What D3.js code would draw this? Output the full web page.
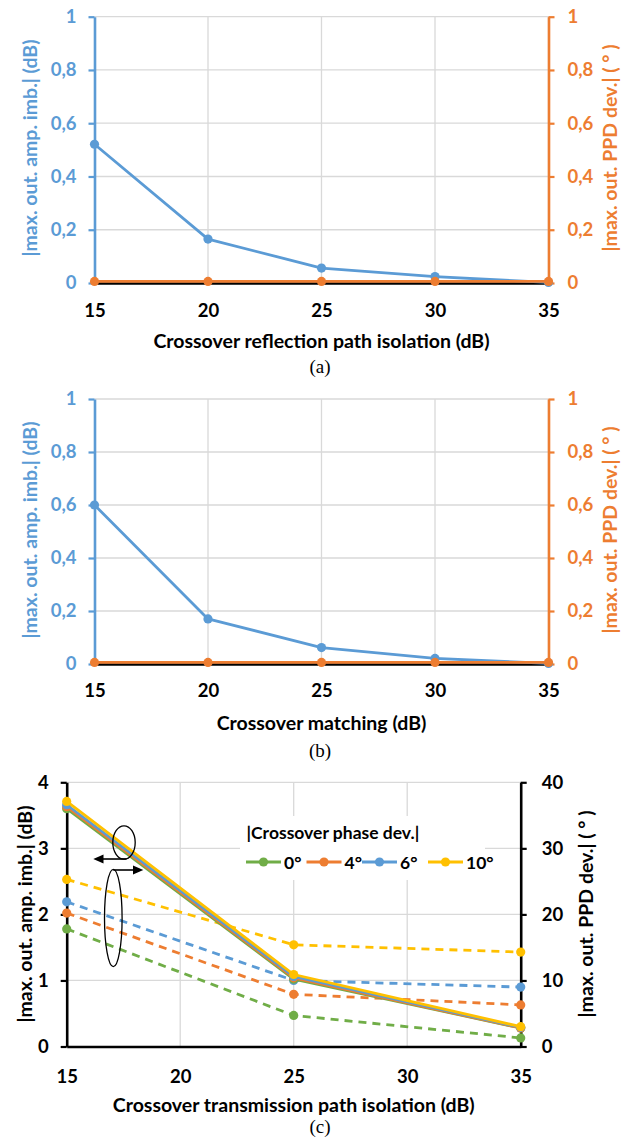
<!DOCTYPE html>
<html>
<head>
<meta charset="utf-8">
<script src="https://cdn.jsdelivr.net/npm/d3@7"></script>
<style>
  html, body { margin: 0; padding: 0; background: #fff; }
  svg { display: block; }
  text { font-family: Lato, "Noto Sans", sans-serif; font-weight: 700; }
  .caption { font-family: "Liberation Serif", "DejaVu Serif", serif; font-weight: 400; }
</style>
</head>
<body>
<svg id="fig" width="635" height="1138"></svg>
<script>
// ---- data ----
const xTickValues = [15, 20, 25, 30, 35];

// (a) crossover reflection path isolation
const isoReflA = [15, 20, 25, 30, 35];
const ampImbA = [0.521, 0.165, 0.056, 0.024, 0.002];
const ppdDevA = [0.006, 0.006, 0.006, 0.006, 0.006];

// (b) crossover matching
const matchingB = [15, 20, 25, 30, 35];
const ampImbB = [0.6, 0.17, 0.062, 0.021, 0.002];
const ppdDevB = [0.006, 0.006, 0.006, 0.006, 0.006];

// (c) crossover transmission path isolation, one series per phase deviation
const isoTransC = [15, 25, 35];
const phaseDevLabels = ["0°", "4°", "6°", "10°"];
const ampImbC0 = [3.60, 1.02, 0.28];
const ampImbC4 = [3.63, 1.04, 0.28];
const ampImbC6 = [3.66, 1.06, 0.29];
const ampImbC10 = [3.71, 1.09, 0.30];
const ppdDevC0 = [17.8, 4.7, 1.3];
const ppdDevC4 = [20.2, 7.9, 6.3];
const ppdDevC6 = [21.9, 10.0, 9.0];
const ppdDevC10 = [25.3, 15.4, 14.3];

const ampTicksAB = [0, 0.2, 0.4, 0.6, 0.8, 1];
const ppdTicksAB = [0, 0.2, 0.4, 0.6, 0.8, 1];
const ampTicksC = [0, 1, 2, 3, 4];
const ppdTicksC = [0, 10, 20, 30, 40];

// ---- styling ----
const BLUE = "#5b9bd5", ORANGE = "#ed7d31", GREEN = "#70ad47", YELLOW = "#ffc000";
const GRID = "#d9d9d9";
const phaseColors = [GREEN, ORANGE, BLUE, YELLOW];
const TICK_FS = "18.5px", TITLE_FS = "19.5px", LEGEND_FS = "17.5px";

const commaFmt = d3.formatLocale({decimal: ",", thousands: ".", grouping: [3], currency: ["", ""]}).format("~g");

const svg = d3.select("#fig");

function panel(cfg) {
  const g = svg.append("g");
  const x = d3.scaleLinear().domain([15, 35]).range([cfg.left, cfg.right]);
  const yL = d3.scaleLinear().domain(cfg.yLDomain).range([cfg.bottom, cfg.top]);
  const yR = d3.scaleLinear().domain(cfg.yRDomain).range([cfg.bottom, cfg.top]);

  // grid
  g.append("g").selectAll("line").data(cfg.yLTicks.slice(1)).join("line")
    .attr("x1", cfg.left).attr("x2", cfg.right)
    .attr("y1", d => yL(d)).attr("y2", d => yL(d))
    .attr("stroke", GRID).attr("stroke-width", 1.3);
  g.append("g").selectAll("line").data(xTickValues.slice(1)).join("line")
    .attr("x1", d => x(d)).attr("x2", d => x(d))
    .attr("y1", cfg.top).attr("y2", cfg.bottom)
    .attr("stroke", GRID).attr("stroke-width", 1.3);

  // bottom axis
  const xa = g.append("g").attr("transform", `translate(0,${cfg.bottom})`)
    .call(d3.axisBottom(x).tickValues(xTickValues).tickSize(0).tickPadding(cfg.xPad));
  xa.select(".domain").attr("stroke", "#000").attr("stroke-width", 2.6);
  xa.selectAll("text").attr("fill", "#000").style("font-size", TICK_FS);

  // left axis
  const la = g.append("g").attr("transform", `translate(${cfg.left},0)`)
    .call(d3.axisLeft(yL).tickValues(cfg.yLTicks).tickSize(6).tickPadding(12).tickSizeOuter(0).tickFormat(commaFmt));
  la.select(".domain").attr("stroke", cfg.leftColor).attr("stroke-width", 2.6);
  la.selectAll(".tick line").attr("stroke", cfg.leftColor).attr("stroke-width", 2.2);
  la.selectAll("text").attr("fill", cfg.leftColor).style("font-size", TICK_FS);

  // right axis
  const ra = g.append("g").attr("transform", `translate(${cfg.right},0)`)
    .call(d3.axisRight(yR).tickValues(cfg.yRTicks).tickSize(6).tickPadding(cfg.rPad).tickSizeOuter(0).tickFormat(commaFmt));
  ra.select(".domain").attr("stroke", cfg.rightColor).attr("stroke-width", 2.6);
  ra.selectAll(".tick line").attr("stroke", cfg.rightColor).attr("stroke-width", 2.2);
  ra.selectAll("text").attr("fill", cfg.rightColor).style("font-size", TICK_FS);

  // axis titles
  g.append("text")
    .attr("transform", `translate(${cfg.leftTitleX},${cfg.titleY}) rotate(-90)`)
    .attr("text-anchor", "middle").attr("dominant-baseline", "central")
    .attr("fill", cfg.leftColor).style("font-size", TITLE_FS)
    .text("|max. out. amp. imb.| (dB)");
  g.append("text")
    .attr("transform", `translate(${cfg.rightTitleX},${cfg.titleY}) rotate(-90)`)
    .attr("text-anchor", "middle").attr("dominant-baseline", "central")
    .attr("fill", cfg.rightColor).style("font-size", TITLE_FS)
    .text("|max. out. PPD dev.| ( ° )");
  g.append("text")
    .attr("x", (cfg.left + cfg.right) / 2).attr("y", cfg.xTitleY)
    .attr("text-anchor", "middle").attr("dominant-baseline", "central")
    .attr("fill", "#000").style("font-size", TITLE_FS)
    .text(cfg.xTitle);
  g.append("text").attr("class", "caption")
    .attr("x", 320).attr("y", cfg.captionY)
    .attr("text-anchor", "middle").attr("dominant-baseline", "central")
    .attr("fill", "#000").style("font-size", "19px")
    .text(cfg.caption);

  return {g, x, yL, yR};
}

function series(g, xs, ys, xScale, yScale, color, dashed) {
  const pts = xs.map((v, i) => [xScale(v), yScale(ys[i])]);
  g.append("path").attr("d", d3.line()(pts))
    .attr("fill", "none").attr("stroke", color).attr("stroke-width", 2.8)
    .attr("stroke-dasharray", dashed ? "8,6" : null)
    .attr("stroke-linejoin", "round");
  g.append("g").selectAll("circle").data(pts).join("circle")
    .attr("cx", d => d[0]).attr("cy", d => d[1]).attr("r", 4.6).attr("fill", color);
}

// ---- (a) ----
const pa = panel({
  left: 94.5, right: 548.5, top: 16.7, bottom: 283,
  yLDomain: [0, 1], yRDomain: [0, 1], yLTicks: ampTicksAB, yRTicks: ppdTicksAB,
  leftColor: BLUE, rightColor: ORANGE, xPad: 21, rPad: 13,
  leftTitleX: 29, rightTitleX: 609, titleY: 148,
  xTitle: "Crossover reflection path isolation (dB)", xTitleY: 340,
  caption: "(a)", captionY: 366
});
series(pa.g, isoReflA, ampImbA, pa.x, pa.yL, BLUE, false);
series(pa.g, isoReflA, ppdDevA, pa.x, pa.yR, ORANGE, false);

// ---- (b) ----
const pb = panel({
  left: 94.5, right: 548.5, top: 399, bottom: 664,
  yLDomain: [0, 1], yRDomain: [0, 1], yLTicks: ampTicksAB, yRTicks: ppdTicksAB,
  leftColor: BLUE, rightColor: ORANGE, xPad: 20, rPad: 13,
  leftTitleX: 29, rightTitleX: 609, titleY: 530,
  xTitle: "Crossover matching (dB)", xTitleY: 722,
  caption: "(b)", captionY: 750
});
series(pb.g, matchingB, ampImbB, pb.x, pb.yL, BLUE, false);
series(pb.g, matchingB, ppdDevB, pb.x, pb.yR, ORANGE, false);

// ---- (c) ----
const pc = panel({
  left: 66.7, right: 520.7, top: 782.3, bottom: 1046.5,
  yLDomain: [0, 4], yRDomain: [0, 40], yLTicks: ampTicksC, yRTicks: ppdTicksC,
  leftColor: "#000", rightColor: "#000", xPad: 23, rPad: 15,
  leftTitleX: 24, rightTitleX: 585, titleY: 914,
  xTitle: "Crossover transmission path isolation (dB)", xTitleY: 1104,
  caption: "(c)", captionY: 1126
});

// legend box sits above the grid
pc.g.append("rect").attr("x", 240).attr("y", 816).attr("width", 245).attr("height", 64).attr("fill", "#fff");

const ampImbC = [ampImbC0, ampImbC4, ampImbC6, ampImbC10];
const ppdDevC = [ppdDevC0, ppdDevC4, ppdDevC6, ppdDevC10];
ppdDevC.forEach((ys, i) => series(pc.g, isoTransC, ys, pc.x, pc.yR, phaseColors[i], true));
ampImbC.forEach((ys, i) => series(pc.g, isoTransC, ys, pc.x, pc.yL, phaseColors[i], false));

// legend
const lg = pc.g.append("g");
lg.append("text").attr("x", 246.5).attr("y", 832).attr("dominant-baseline", "central")
  .attr("fill", "#000").style("font-size", LEGEND_FS).text("|Crossover phase dev.|");
const legendX = [246, 306.5, 362, 428];
phaseDevLabels.forEach((lab, i) => {
  const x0 = legendX[i];
  lg.append("line").attr("x1", x0).attr("x2", x0 + 35).attr("y1", 862).attr("y2", 862)
    .attr("stroke", phaseColors[i]).attr("stroke-width", 2.8);
  lg.append("circle").attr("cx", x0 + 17.5).attr("cy", 862).attr("r", 4.6).attr("fill", phaseColors[i]);
  lg.append("text").attr("x", x0 + 38).attr("y", 862).attr("dominant-baseline", "central")
    .attr("fill", "#000").style("font-size", LEGEND_FS).text(lab);
});

// annotation: ellipses with arrows pointing to each axis
const ann = pc.g.append("g").attr("fill", "none").attr("stroke", "#000").attr("stroke-width", 1.3);
ann.append("ellipse").attr("cx", 124).attr("cy", 842.5).attr("rx", 11.2).attr("ry", 16.7);
ann.append("ellipse").attr("cx", 113.3).attr("cy", 918).attr("rx", 8.8).attr("ry", 48.7);
ann.append("line").attr("x1", 126.5).attr("y1", 859).attr("x2", 102).attr("y2", 859).attr("stroke-width", 1.6);
ann.append("path").attr("d", "M93.3,859 L103.5,854.5 L103.5,863.5 Z").attr("fill", "#000").attr("stroke", "none");
ann.append("line").attr("x1", 113.3).attr("y1", 870).attr("x2", 134).attr("y2", 870).attr("stroke-width", 1.6);
ann.append("path").attr("d", "M143.3,870 L133,865.5 L133,874.5 Z").attr("fill", "#000").attr("stroke", "none");
</script>
</body>
</html>
